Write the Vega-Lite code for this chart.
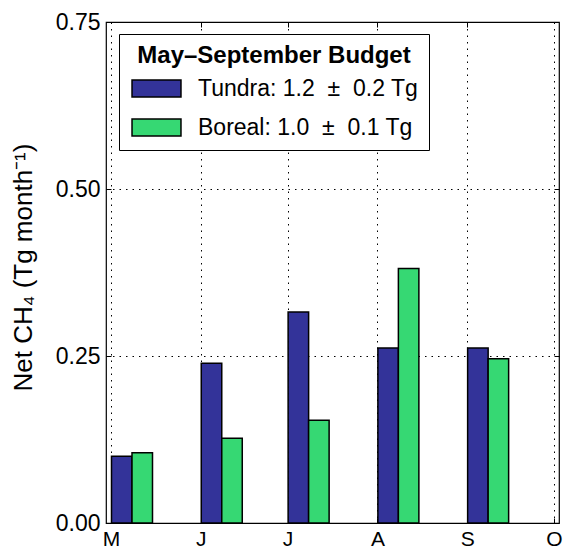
{
  "$schema": "https://vega.github.io/schema/vega-lite/v6.json",
  "width": 453,
  "height": 501,
  "autosize": "none",
  "padding": {"left": 106, "top": 22, "right": 10, "bottom": 27},
  "background": "white",
  "config": {
    "font": "Liberation Sans",
    "view": {"stroke": "black", "strokeWidth": 1.2},
    "axis": {"domain": false, "labelFont": "Liberation Sans", "titleFont": "Liberation Sans", "labelColor": "black", "titleColor": "black", "tickColor": "black", "gridColor": "black", "gridDash": [1.5, 5], "gridWidth": 1, "gridOpacity": 1}
  },
  "data": {
    "values": [
      {"month": "2013-05-01", "series": "Tundra", "flux": 0.100},
      {"month": "2013-06-01", "series": "Tundra", "flux": 0.239},
      {"month": "2013-07-01", "series": "Tundra", "flux": 0.316},
      {"month": "2013-08-01", "series": "Tundra", "flux": 0.262},
      {"month": "2013-09-01", "series": "Tundra", "flux": 0.262},
      {"month": "2013-05-01", "series": "Boreal", "flux": 0.105},
      {"month": "2013-06-01", "series": "Boreal", "flux": 0.127},
      {"month": "2013-07-01", "series": "Boreal", "flux": 0.154},
      {"month": "2013-08-01", "series": "Boreal", "flux": 0.381},
      {"month": "2013-09-01", "series": "Boreal", "flux": 0.246}
    ]
  },
  "layer": [
    {
      "transform": [{"filter": "datum.series == 'Tundra'"}],
      "mark": {"type": "bar", "width": 20.5, "xOffset": 10.75, "stroke": "black", "strokeWidth": 1.5},
      "encoding": {
        "x": {
          "field": "month", "type": "temporal",
          "scale": {"type": "utc", "domain": [{"year": 2013, "month": 5, "date": 1, "utc": true}, {"year": 2013, "month": 10, "date": 1, "utc": true}]},
          "axis": {
            "orient": "bottom", "title": null,
            "values": [
              {"year": 2013, "month": 5, "date": 1, "utc": true},
              {"year": 2013, "month": 6, "date": 1, "utc": true},
              {"year": 2013, "month": 7, "date": 1, "utc": true},
              {"year": 2013, "month": 8, "date": 1, "utc": true},
              {"year": 2013, "month": 9, "date": 1, "utc": true},
              {"year": 2013, "month": 10, "date": 1, "utc": true}
            ],
            "labelExpr": "slice(utcFormat(datum.value, '%B'), 0, 1)",
            "labelFontSize": 21, "labelOverlap": false, "labelBound": false, "labelFlush": false,
            "tickSize": -5, "tickWidth": 1, "labelPadding": 10, "grid": true
          }
        },
        "y": {
          "field": "flux", "type": "quantitative",
          "scale": {"domain": [0, 0.75], "nice": false, "zero": true},
          "axis": {
            "orient": "left", "values": [0, 0.25, 0.5, 0.75], "format": ".2f",
            "labelFontSize": 23, "labelOverlap": false, "labelBound": false, "labelFlush": false,
            "tickSize": -5, "tickWidth": 1, "labelPadding": 11, "grid": true,
            "title": "Net CH₄ (Tg month⁻¹)", "titleFontSize": 26, "titleFontWeight": "normal", "titlePadding": 19, "titleY": 245
          }
        },
        "color": {
          "field": "series", "type": "nominal",
          "scale": {"domain": ["Tundra", "Boreal"], "range": ["#333399", "#36d873"]},
          "legend": {
            "orient": "none", "legendX": 13, "legendY": 12,
            "title": "May–September Budget",
            "titleFontSize": 24, "titleFontWeight": "bold", "titleFont": "Liberation Sans", "titleColor": "black",
            "titleAnchor": "middle", "titlePadding": 9, "titleLimit": 500,
            "labelExpr": "datum.label == 'Tundra' ? 'Tundra: 1.2\u2007±\u20070.2 Tg' : 'Boreal: 1.0\u2007±\u20070.1 Tg'",
            "labelFontSize": 23, "labelFont": "Liberation Sans", "labelColor": "black", "labelLimit": 500,
            "symbolType": "M-2.88,-1L2.88,-1L2.88,1L-2.88,1Z",
            "symbolSize": 289, "symbolOffset": 16, "symbolStrokeColor": "black", "symbolStrokeWidth": 1.5, "symbolOpacity": 1,
            "labelOffset": 30, "rowPadding": 15,
            "strokeColor": "black", "fillColor": "white", "padding": 10, "cornerRadius": 0
          }
        }
      }
    },
    {
      "transform": [{"filter": "datum.series == 'Boreal'"}],
      "mark": {"type": "bar", "width": 20.5, "xOffset": 31.25, "stroke": "black", "strokeWidth": 1.5},
      "encoding": {
        "x": {
          "field": "month", "type": "temporal",
          "axis": {
            "orient": "top", "title": null, "labels": false, "grid": false,
            "values": [
              {"year": 2013, "month": 6, "date": 1, "utc": true},
              {"year": 2013, "month": 7, "date": 1, "utc": true},
              {"year": 2013, "month": 8, "date": 1, "utc": true},
              {"year": 2013, "month": 9, "date": 1, "utc": true}
            ],
            "tickSize": -5, "tickWidth": 1
          }
        },
        "y": {
          "field": "flux", "type": "quantitative",
          "axis": {"orient": "right", "title": null, "labels": false, "grid": false, "values": [0.25, 0.5], "tickSize": -5, "tickWidth": 1}
        },
        "color": {"field": "series", "type": "nominal"}
      }
    }
  ],
  "resolve": {"axis": {"x": "independent", "y": "independent"}}
}
